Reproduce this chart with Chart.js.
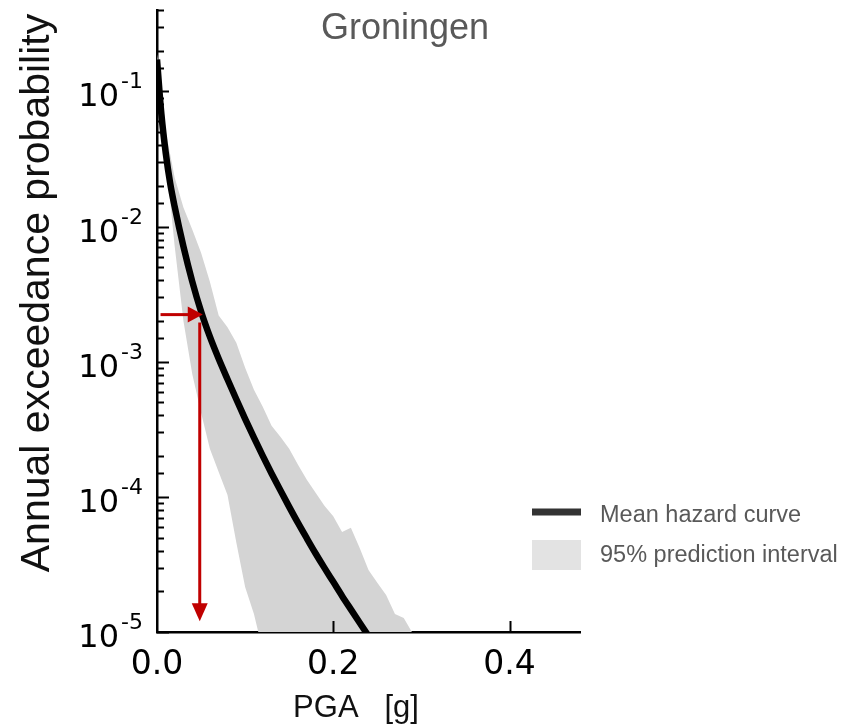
<!DOCTYPE html>
<html>
<head>
<meta charset="utf-8">
<script src="https://cdn.jsdelivr.net/npm/chart.js@4.4.1/dist/chart.umd.min.js"></script>
<style>
  html, body { margin: 0; padding: 0; background: #fff; }
</style>
</head>
<body>
<canvas id="grafica" width="851" height="726"></canvas>
<script>
// PGA en g
const pgaMedia = [0, 0.005, 0.01, 0.015, 0.02, 0.03, 0.04, 0.05, 0.06, 0.07, 0.08, 0.09, 0.10,
    0.11, 0.12, 0.13, 0.14, 0.15, 0.16, 0.17, 0.18, 0.19, 0.20, 0.21, 0.22, 0.23, 0.24, 0.25];
const probMedia = [0.172, 0.0676, 0.0347, 0.0208, 0.0141, 0.00711, 0.00392, 0.00235, 0.00153, 0.00105,
    7.41e-4, 5.27e-4, 3.78e-4, 2.74e-4, 2.01e-4, 1.49e-4, 1.117e-4, 8.43e-5, 6.41e-5, 4.93e-5,
    3.81e-5, 2.98e-5, 2.35e-5, 1.85e-5, 1.47e-5, 1.17e-5, 9.34e-6, 7.48e-6];

const pgaBanda = [0, 0.005, 0.01, 0.015, 0.02, 0.03, 0.04, 0.05, 0.06, 0.07, 0.08, 0.09, 0.10,
    0.11, 0.12, 0.13, 0.14, 0.15, 0.16, 0.17, 0.18, 0.19, 0.20, 0.21, 0.22, 0.23, 0.24, 0.25,
    0.26, 0.27, 0.28, 0.29, 0.295];
const probSuperior = [0.188, 0.107, 0.0497, 0.0341, 0.0231, 0.0138, 0.0095, 0.0064, 0.0039, 0.0022,
    0.0018, 0.00138, 9.0e-4, 6.2e-4, 4.64e-4, 3.36e-4, 2.78e-4, 2.27e-4, 1.73e-4, 1.34e-4,
    1.07e-4, 8.6e-5, 7.2e-5, 5.5e-5, 5.9e-5, 4.19e-5, 2.88e-5, 2.31e-5, 1.88e-5, 1.36e-5,
    1.27e-5, 9.8e-6, 5e-6];
const probInferior = [0.172, 0.062, 0.030, 0.0153, 0.0072, 0.0020, 8.1e-4, 4.19e-4, 2.27e-4, 1.53e-4,
    1.03e-4, 4.6e-5, 2.15e-5, 1.36e-5, 7.3e-6, 1e-6, 1e-6, 1e-6, 1e-6, 1e-6,
    1e-6, 1e-6, 1e-6, 1e-6, 1e-6, 1e-6, 1e-6, 1e-6, 1e-6, 1e-6,
    1e-6, 1e-6, 1e-6];

// flechas rojas (valor de diseño)
const pgaDiseno = 0.0485;
const probDiseno = 0.00223;

const etiquetas = ['Mean hazard curve', '95% prediction interval'];
const ticksX = [0, 0.2, 0.4];

function puntos(xs, ys) {
    return xs.map((x, i) => ({ x: x, y: ys[i] }));
}

const decoraciones = {
    id: 'decoraciones',
    afterDraw(chart) {
        const ctx = chart.ctx;
        const sx = chart.scales.x;
        const sy = chart.scales.y;
        const area = chart.chartArea;
        ctx.save();

        // marcas hacia dentro en el eje y + etiquetas 10^n
        ctx.strokeStyle = '#000';
        ctx.fillStyle = '#000';
        ctx.lineWidth = 2;
        ctx.textBaseline = 'alphabetic';
        sy.ticks.forEach(t => {
            const py = Math.round(sy.getPixelForValue(t.value)) + 0.5;
            const lg = Math.log10(t.value);
            const mayor = Math.abs(lg - Math.round(lg)) < 1e-6;
            ctx.beginPath();
            ctx.moveTo(area.left, py);
            ctx.lineTo(area.left + (mayor ? 12 : 7), py);
            ctx.stroke();
            if (mayor) {
                const exp = String(Math.round(lg));
                ctx.font = '22px "DejaVu Sans"';
                ctx.textAlign = 'right';
                ctx.fillText(exp, 143, py - 4);
                const w = ctx.measureText(exp).width;
                ctx.font = '32px "DejaVu Sans"';
                ctx.fillText('10', 143 - w - 2, py + 14);
            }
        });
        // marcas en el eje x
        sx.ticks.forEach(t => {
            if (t.value === 0) return;
            const px = Math.round(sx.getPixelForValue(t.value)) + 0.5;
            ctx.beginPath();
            ctx.moveTo(px, area.bottom);
            ctx.lineTo(px, area.bottom - 11);
            ctx.stroke();
        });

        // flechas
        ctx.strokeStyle = '#c00000';
        ctx.fillStyle = '#c00000';
        ctx.lineWidth = 3;
        const fx = sx.getPixelForValue(pgaDiseno);
        const fy = sy.getPixelForValue(probDiseno);
        const x0 = sx.getPixelForValue(0.004);
        ctx.beginPath();
        ctx.moveTo(x0, fy);
        ctx.lineTo(fx - 10, fy);
        ctx.stroke();
        ctx.beginPath();
        ctx.moveTo(fx + 3, fy);
        ctx.lineTo(fx - 12, fy - 8);
        ctx.lineTo(fx - 12, fy + 8);
        ctx.closePath();
        ctx.fill();
        const yfin = sy.getPixelForValue(1.2e-5);
        ctx.beginPath();
        ctx.moveTo(fx, fy + 8);
        ctx.lineTo(fx, yfin - 14);
        ctx.stroke();
        ctx.beginPath();
        ctx.moveTo(fx, yfin);
        ctx.lineTo(fx - 8, yfin - 18);
        ctx.lineTo(fx + 8, yfin - 18);
        ctx.closePath();
        ctx.fill();

        // titulo
        ctx.fillStyle = '#595959';
        ctx.font = '36px "Liberation Sans", Arial, sans-serif';
        ctx.textAlign = 'center';
        ctx.textBaseline = 'middle';
        ctx.fillText('Groningen', 405, 29);

        // titulos de ejes
        ctx.fillStyle = '#111';
        ctx.font = '31px "Liberation Sans", Arial, sans-serif';
        ctx.fillText('PGA   [g]', 356, 708);
        ctx.save();
        ctx.translate(38, 293);
        ctx.rotate(-Math.PI / 2);
        ctx.font = '41px "Liberation Sans", Arial, sans-serif';
        ctx.fillText('Annual exceedance probability', 0, 0);
        ctx.restore();

        // leyenda
        ctx.strokeStyle = '#333';
        ctx.lineWidth = 7;
        ctx.beginPath();
        ctx.moveTo(532, 512);
        ctx.lineTo(581, 512);
        ctx.stroke();
        ctx.fillStyle = '#e3e3e3';
        ctx.fillRect(532, 540, 49, 30);
        ctx.fillStyle = '#595959';
        ctx.font = '23.5px "Liberation Sans", Arial, sans-serif';
        ctx.textAlign = 'left';
        ctx.fillText(etiquetas[0], 600, 516);
        ctx.fillText(etiquetas[1], 600, 556);
        ctx.restore();
    }
};

const ctx = document.getElementById('grafica').getContext('2d');
const miGrafica = new Chart(ctx, {
    type: 'line',
    data: {
        datasets: [
            {
                label: 'lower',
                data: puntos(pgaBanda, probInferior),
                borderColor: 'transparent',
                borderWidth: 0,
                pointRadius: 0,
                order: 2,
                fill: false
            },
            {
                label: etiquetas[1],
                data: puntos(pgaBanda, probSuperior),
                borderColor: 'transparent',
                borderWidth: 0,
                pointRadius: 0,
                backgroundColor: '#d4d4d4',
                order: 1,
                fill: '-1'
            },
            {
                label: etiquetas[0],
                data: puntos(pgaMedia, probMedia),
                borderColor: '#000',
                borderWidth: 6.5,
                pointRadius: 0,
                cubicInterpolationMode: 'monotone',
                clip: 0,
                order: 0,
                fill: false
            }
        ]
    },
    options: {
        responsive: false,
        animation: false,
        devicePixelRatio: 1,
        layout: { padding: { top: 10, right: 271, left: 0, bottom: 0 } },
        plugins: {
            legend: { display: false },
            tooltip: { enabled: false }
        },
        scales: {
            x: {
                type: 'linear',
                min: 0,
                max: 0.48,
                afterFit: s => { s.height = 94; s.paddingLeft = 0; s.paddingRight = 0; },
                grid: { display: false },
                border: { display: true, color: '#000', width: 2.5 },
                afterBuildTicks: s => { s.ticks = ticksX.map(v => ({ value: v })); },
                ticks: {
                    padding: 6,
                    color: '#000',
                    font: { family: 'DejaVu Sans', size: 33 },
                    callback: v => Number(v).toFixed(1)
                }
            },
            y: {
                type: 'logarithmic',
                min: 1e-5,
                max: 0.4,
                afterFit: s => { s.width = 157; s.paddingTop = 0; s.paddingBottom = 0; },
                grid: { display: false },
                border: { display: true, color: '#000', width: 2.5 },
                ticks: { display: false, autoSkip: false }
            }
        }
    },
    plugins: [decoraciones]
});
</script>
</body>
</html>
